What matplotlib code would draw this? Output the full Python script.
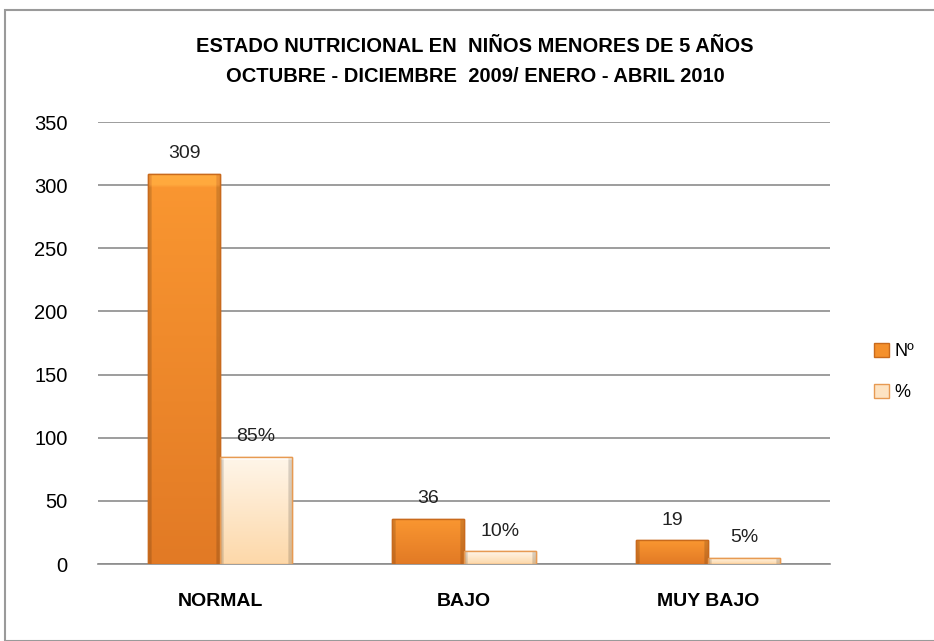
import numpy as np
import matplotlib.pyplot as plt
from matplotlib.patches import Rectangle
from matplotlib.colors import to_rgb

categories = ['NORMAL', 'BAJO', 'MUY BAJO']
numero = [309, 36, 19]
porcentaje = [85, 10, 5]
labels_num = ['309', '36', '19']
labels_pct = ['85%', '10%', '5%']

plt.rcParams['font.family'] = ['Liberation Sans', 'DejaVu Sans']

fig = plt.figure(figsize=(9.34, 6.41), dpi=100)
ax = fig.add_axes([98 / 934, 1 - 564 / 641, 732 / 934, 442 / 641])

# chart frame
fig.patches.append(Rectangle((5 / 934, 0.0), 1.0, 1 - 10 / 641, transform=fig.transFigure,
                             fill=False, edgecolor='#9a9a9a', lw=1.5))

x = np.arange(len(categories))
w = 0.295


def bevel_image(c_top, c_bot, edge_dark=0.85, n=120):
    t = np.linspace(0, 1, n)[:, None, None]
    top, bot = np.array(to_rgb(c_top)), np.array(to_rgb(c_bot))
    img = top * (1 - t) + bot * t
    img = np.repeat(img, n, axis=1)
    xs = np.linspace(0, 1, n)
    side = np.ones(n)
    side[xs < 0.05] = edge_dark
    side[xs > 0.95] = edge_dark
    img = img * side[None, :, None]
    # lighter top bevel
    img[:4, :, :] = np.clip(img[:4, :, :] * 1.06 + 0.04, 0, 1)
    return img


def gradient_bars(bars, c_top, c_bot, edge):
    img = bevel_image(c_top, c_bot)
    for b in bars:
        x0, y0 = b.get_x(), b.get_y()
        im = ax.imshow(img, aspect='auto', interpolation='bilinear',
                       extent=(x0, x0 + b.get_width(), y0, y0 + b.get_height()), zorder=3)
        im.set_clip_path(b)
        ax.add_patch(Rectangle((x0, y0), b.get_width(), b.get_height(),
                               fill=False, edgecolor=edge, lw=1.0, zorder=4))


b1 = ax.bar(x - w / 2, numero, w, color='#f4902c', edgecolor='#c96a1c', zorder=2, label='Nº')
b2 = ax.bar(x + w / 2, porcentaje, w, color='#fde3c2', edgecolor='#e79a52', zorder=2, label='%')
gradient_bars(b1, '#fa9731', '#e27a25', '#c96a1c')
gradient_bars(b2, '#fff6ea', '#fdd8a9', '#e79a52')

for i in range(len(categories)):
    ax.text(x[i] - w / 2, numero[i] + 9, labels_num[i], ha='center', va='bottom', fontsize=14, color='#222222')
    ax.text(x[i] + w / 2, porcentaje[i] + 9, labels_pct[i], ha='center', va='bottom', fontsize=14, color='#222222')

ax.set_xlim(-0.5, 2.5)
ax.set_ylim(0, 350)
ax.set_yticks(range(0, 351, 50))
ax.yaxis.grid(True, color='#8c8c8c', lw=1.2, zorder=0)
ax.set_axisbelow(True)
ax.tick_params(axis='y', length=0, labelsize=14.5, pad=22)
ax.set_xticks(x)
ax.set_xticklabels(categories, fontsize=14, fontweight='bold')
ax.tick_params(axis='x', length=0, pad=21)
for s in ['top', 'right', 'left']:
    ax.spines[s].set_visible(False)
ax.spines['bottom'].set_color('#8c8c8c')
ax.spines['bottom'].set_linewidth(1.2)

fig.text(475 / 934, 1 - 47 / 641, 'ESTADO NUTRICIONAL EN  NIÑOS MENORES DE 5 AÑOS',
         ha='center', va='center', fontsize=14.5, fontweight='bold')
fig.text(475 / 934, 1 - 77 / 641, 'OCTUBRE - DICIEMBRE  2009/ ENERO - ABRIL 2010',
         ha='center', va='center', fontsize=14.5, fontweight='bold')

fig.legend(handles=[b1, b2], labels=['Nº', '%'], loc='center left',
           bbox_to_anchor=(858 / 934, 1 - 372 / 641), frameon=False, fontsize=13,
           handlelength=0.8, handleheight=0.8, labelspacing=1.3, handletextpad=0.3)

fig.savefig('out.png', dpi=100)
